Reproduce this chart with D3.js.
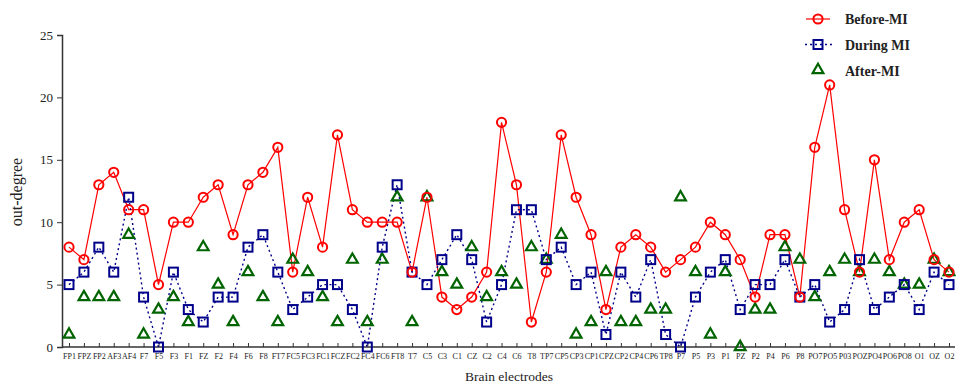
<!DOCTYPE html>
<html>
<head>
<meta charset="utf-8">
<script src="https://cdn.jsdelivr.net/npm/d3@7"></script>
<style>
  body { margin: 0; background: #fff; }
  svg { display: block; font-family: "Liberation Serif", "Times New Roman", serif; }
</style>
</head>
<body>
<div id="chart"></div>
<script>
const electrodes = ['FP1','FPZ','FP2','AF3','AF4','F7','F5','F3','F1','FZ','F2','F4','F6','F8','FT7','FC5','FC3','FC1','FCZ','FC2',
  'FC4','FC6','FT8','T7','C5','C3','C1','CZ','C2','C4','C6','T8','TP7','CP5','CP3','CP1','CPZ','CP2','CP4','CP6',
  'TP8','P7','P5','P3','P1','PZ','P2','P4','P6','P8','PO7','PO5','P03','POZ','PO4','PO6','PO8','O1','OZ','O2']

const beforeMI = [8,7,13,14,11,11,5,10,10,12,13,9,13,14,16,6,12,8,17,11,
  10,10,10,6,12,4,3,4,6,18,13,2,6,17,12,9,3,8,9,8,
  6,7,8,10,9,7,4,9,9,4,16,21,11,6,15,7,10,11,7,6]

const duringMI = [5,6,8,6,12,4,0,6,3,2,4,4,8,9,6,3,4,5,5,3,
  0,8,13,6,5,7,9,7,2,5,11,11,7,8,5,6,1,6,4,7,
  1,0,4,6,7,3,5,5,7,4,5,2,3,7,3,4,5,3,6,5]

const afterMI = [1,4,4,4,9,1,3,4,2,8,5,2,6,4,2,7,6,4,2,7,
  2,7,12,2,12,6,5,8,4,6,5,8,7,9,1,2,6,2,2,3,
  3,12,6,1,6,0,3,3,8,7,4,6,7,6,7,6,5,5,7,6]

const yTicks = [0, 5, 10, 15, 20, 25]

const width = 956, height = 386
const red = '#ff0000', navy = '#00008b', green = '#006400'

const svg = d3.select('#chart').append('svg')
  .attr('width', width)
  .attr('height', height)

const x = d3.scalePoint().domain(electrodes).range([69, 949])
const y = d3.scaleLinear().domain([0, 25]).range([347, 35])

// y axis
const yAxis = svg.append('g')
  .attr('transform', 'translate(62,0)')
  .call(d3.axisLeft(y).tickValues(yTicks).tickSize(5).tickPadding(4))
yAxis.select('.domain').attr('stroke', '#333').attr('stroke-width', 1.5)
yAxis.selectAll('.tick line').attr('stroke', '#333')
yAxis.selectAll('text').attr('font-size', 13).attr('fill', '#222')
  .attr('font-family', '"Liberation Serif", serif')

// x axis, ticks pointing up
const xAxis = svg.append('g')
  .attr('transform', 'translate(0,347)')
  .call(d3.axisBottom(x).tickSizeInner(-4).tickSizeOuter(0).tickPadding(6))
xAxis.select('.domain').attr('d', 'M62,0H955').attr('stroke', '#333').attr('stroke-width', 1.5)
xAxis.selectAll('.tick line').attr('stroke', '#333')
xAxis.selectAll('text').attr('font-size', 8).attr('fill', '#222')
  .attr('font-family', '"Liberation Serif", serif')

// axis titles
svg.append('text')
  .attr('transform', 'translate(22,192) rotate(-90)')
  .attr('text-anchor', 'middle')
  .attr('font-size', 16)
  .attr('fill', '#222')
  .text('out-degree')

svg.append('text')
  .attr('x', 509).attr('y', 381)
  .attr('text-anchor', 'middle')
  .attr('font-size', 13.5)
  .attr('fill', '#222')
  .text('Brain electrodes')

const line = d3.line().x((d, i) => x(electrodes[i])).y(d => y(d))

// Before-MI
svg.append('path').datum(beforeMI)
  .attr('d', line).attr('fill', 'none').attr('stroke', red).attr('stroke-width', 1.2)

// During MI
svg.append('path').datum(duringMI)
  .attr('d', line).attr('fill', 'none').attr('stroke', navy).attr('stroke-width', 1.4)
  .attr('stroke-dasharray', '2,3')

const tri = d3.symbol().type(d3.symbolTriangle).size(50)

function circles(g, data) {
  g.selectAll('circle').data(data).join('circle')
    .attr('cx', (d, i) => x(electrodes[i])).attr('cy', d => y(d))
    .attr('r', 4.6).attr('fill', 'none').attr('stroke', red).attr('stroke-width', 2)
}
function squares(g, data) {
  g.selectAll('rect').data(data).join('rect')
    .attr('x', (d, i) => x(electrodes[i]) - 4.5).attr('y', d => y(d) - 4.5)
    .attr('width', 9).attr('height', 9)
    .attr('fill', 'none').attr('stroke', navy).attr('stroke-width', 2)
}
function triangles(g, data) {
  g.selectAll('path').data(data).join('path')
    .attr('d', tri)
    .attr('transform', (d, i) => `translate(${x(electrodes[i])},${y(d)})`)
    .attr('fill', 'none').attr('stroke', green).attr('stroke-width', 2.2)
}

triangles(svg.append('g'), afterMI)
squares(svg.append('g'), duringMI)
circles(svg.append('g'), beforeMI)

// legend
const legend = svg.append('g')
const rows = [
  { label: 'Before-MI', y: 19 },
  { label: 'During MI', y: 45 },
  { label: 'After-MI', y: 71 }
]
legend.append('line').attr('x1', 806).attr('x2', 830).attr('y1', 19).attr('y2', 19)
  .attr('stroke', red).attr('stroke-width', 1.2)
legend.append('circle').attr('cx', 818).attr('cy', 19).attr('r', 4.6)
  .attr('fill', 'none').attr('stroke', red).attr('stroke-width', 2)
legend.append('line').attr('x1', 805).attr('x2', 833).attr('y1', 44.5).attr('y2', 44.5)
  .attr('stroke', navy).attr('stroke-width', 1.4).attr('stroke-dasharray', '2,3')
legend.append('rect').attr('x', 813.5).attr('y', 40).attr('width', 9).attr('height', 9)
  .attr('fill', 'none').attr('stroke', navy).attr('stroke-width', 2)
legend.append('path').attr('d', tri).attr('transform', 'translate(818,70)')
  .attr('fill', 'none').attr('stroke', green).attr('stroke-width', 2.2)
legend.selectAll('text.lbl').data(rows).join('text')
  .attr('class', 'lbl')
  .attr('x', 845).attr('y', d => d.y + 5)
  .attr('font-size', 14).attr('font-weight', 'bold').attr('fill', '#222')
  .text(d => d.label)
</script>
</body>
</html>
